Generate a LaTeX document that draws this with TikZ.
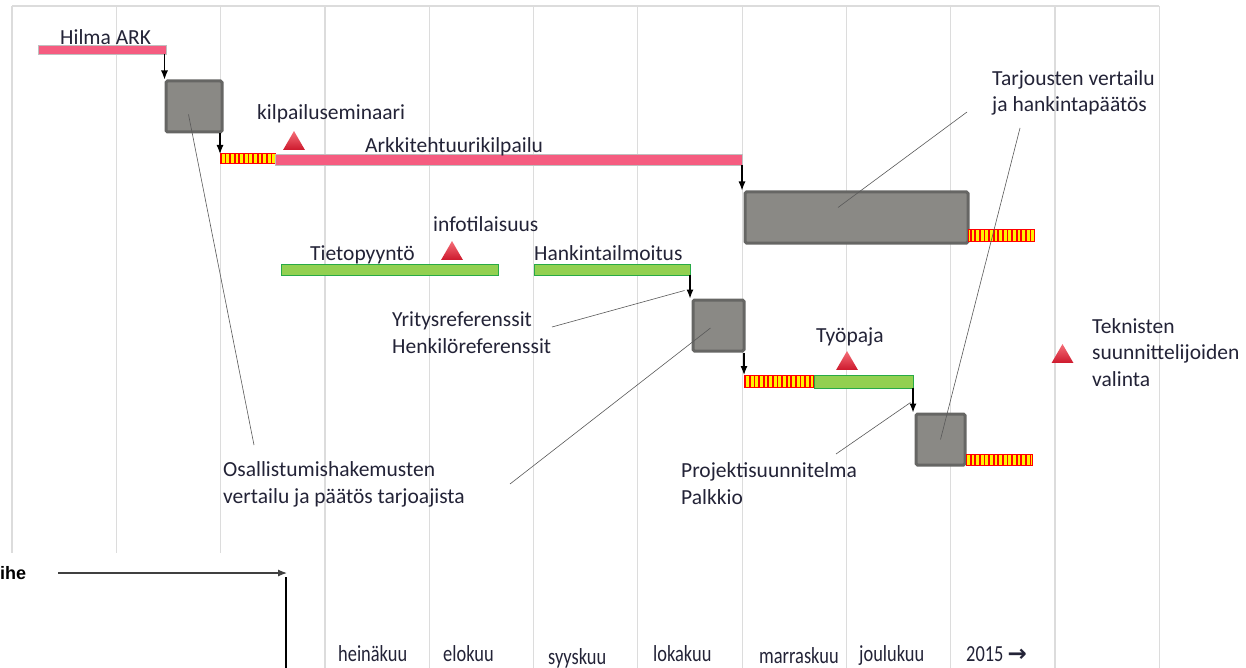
\documentclass[tikz,border=0pt]{standalone}
\usepackage{fontspec}
\setmainfont{Carlito}
\newfontfamily\monthfont[FakeStretch=0.8]{Carlito}
\newfontfamily\phasefont{Liberation Sans}
\newfontfamily\arrowfont{DejaVu Sans}
\usetikzlibrary{shapes.geometric,patterns.meta,arrows.meta}

\definecolor{cGrid}{RGB}{220,220,220}
\definecolor{cBox}{RGB}{138,137,133}
\definecolor{cBoxEdge}{RGB}{102,102,100}
\definecolor{cPink}{RGB}{245,92,128}
\definecolor{cGreen}{RGB}{146,208,80}
\definecolor{cGreenEdge}{RGB}{40,170,70}
\definecolor{cText}{RGB}{35,35,55}
\definecolor{cTriTop}{RGB}{245,110,120}
\definecolor{cTriBot}{RGB}{205,25,45}

\tikzset{
  gridline/.style={cGrid, line width=1.2pt},
  bar/.style={anchor=north west, inner sep=0, outer sep=0, minimum height=10},
  pinkbar/.style={bar, fill=cPink, draw=black!25, line width=0.8pt},
  greenbar/.style={bar, fill=cGreen, draw=cGreenEdge, line width=1pt},
  hatchbar/.style={bar, draw=red, line width=1pt, preaction={fill=yellow},
    pattern={Lines[angle=90,distance=4.6pt,line width=1.8pt]}, pattern color=red},
  phasebox/.style={anchor=north west, inner sep=0, fill=cBox, draw=cBoxEdge,
    line width=3pt, rounded corners=1.5pt},
  milestone/.style={regular polygon, regular polygon sides=3, minimum size=25,
    inner sep=0, anchor=south, top color=cTriTop, bottom color=cTriBot},
  flow/.style={-{Latex[length=9pt,width=7pt]}, line width=1.2pt, black},
  callout/.style={draw=black!65, line width=0.6pt},
  lbl/.style={anchor=base west, inner sep=0, text=cText,
    font=\fontsize{21.5}{26.5}\selectfont},
  multi/.style={lbl, align=left},
  month/.style={anchor=base west, inner sep=0, text=cText,
    font=\monthfont\fontsize{23}{24}\selectfont}
}

\begin{document}
\begin{tikzpicture}[x=1pt,y=-1pt]
\useasboundingbox (0,0) rectangle (1246,668);
\fill[white] (0,0) rectangle (1246,668);

% month grid
\draw[gridline] (12,6) -- (1159.3,6);
\foreach \k in {0,1,2}
  \draw[gridline] ({12+104.3*\k},6) -- ({12+104.3*\k},553);
\foreach \k in {3,...,11}
  \draw[gridline] ({12+104.3*\k},6) -- ({12+104.3*\k},668);

% bars and phases
\node[pinkbar, minimum width=128, minimum height=9] (hilma) at (38,45) {};
\node[phasebox, minimum width=56, minimum height=51] (box1) at (164.5,79.5) {};
\node[hatchbar, minimum width=55] (hatch1) at (220,154) {};
\node[pinkbar, minimum width=467, minimum height=11] (ark) at (275,154) {};
\node[phasebox, minimum width=223, minimum height=51] (box2) at (743.5,190.5) {};
\node[hatchbar, minimum width=66, minimum height=11] (hatch2) at (968,230) {};
\node[greenbar, minimum width=217, minimum height=11] (tieto) at (281,264) {};
\node[greenbar, minimum width=156, minimum height=11] (hank) at (534,264) {};
\node[phasebox, minimum width=51, minimum height=51] (box3) at (691.5,298.5) {};
\node[hatchbar, minimum width=69, minimum height=12] (hatch3) at (744,375) {};
\node[greenbar, minimum width=99, minimum height=13] (tyo) at (814,375) {};
\node[phasebox, minimum width=49, minimum height=51] (box4) at (914.5,412.5) {};
\node[hatchbar, minimum width=66, minimum height=11] (hatch4) at (966,454) {};

% milestones
\node[milestone] (kilp) at (294,150) {};
\node[milestone] (info) at (452,260) {};
\node[milestone] (paja) at (847,370) {};
\node[milestone] (tekn) at (1062.5,363) {};

% labels
\node[lbl] (hilmalbl) at (60,45) {Hilma ARK};
\node[lbl] (kilplbl) at (257,120) {kilpailuseminaari};
\node[lbl] (arklbl) at (365,153) {Arkkitehtuurikilpailu};
\node[lbl] (infolbl) at (433,232) {infotilaisuus};
\node[lbl] (tietolbl) at (310,260) {Tietopyyntö};
\node[lbl] (hanklbl) at (534,260) {Hankintailmoitus};
\node[lbl] (pajalbl) at (816,342) {Työpaja};
\node[multi] (tarj) at (992,112) {Tarjousten vertailu\\ja hankintapäätös};
\node[multi] (refs) at (392,353) {Yritysreferenssit\\Henkilöreferenssit};
\node[multi] (osall) at (223,503) {Osallistumishakemusten\\vertailu ja päätös tarjoajista};
\node[multi] (proj) at (681,504) {Projektisuunnitelma\\Palkkio};
\node[multi] (tekntxt) at (1092,386) {Teknisten\\suunnittelijoiden\\valinta};

% arrows between phases
\draw[flow] (box1.north west |- hilma.south) -- (box1.north west);
\draw[flow] (hatch1.north west |- box1.south) -- (hatch1.north west);
\draw[flow] (ark.south east) -- (ark.south east |- box2.north);
\draw[flow] (hank.south east) -- (hank.south east |- box3.north);
\draw[flow] (hatch3.north west |- box3.south) -- (hatch3.north west);
\draw[flow] (tyo.south east) -- (tyo.south east |- box4.north);

% callout lines
\draw[callout] ([shift={(-5.5,8)}]box1.center) -- ([shift={(31,-58)}]osall.base west);
\draw[callout] ([shift={(-8,2.5)}]box3.center) -- ([shift={(287,-19)}]osall.base west);
\draw[callout] ([shift={(160,-26)}]refs.base west) -- ([shift={(-7,-8)}]box3.north west);
\draw[callout] ([shift={(-25,0)}]tarj.base west) -- ([shift={(-18.5,-10)}]box2.center);
\draw[callout] ([shift={(28,16)}]tarj.base west) -- (box4.center);
\draw[callout] ([shift={(155,-50)}]proj.base west) -- ([shift={(-4,-10)}]box4.north west);

% time axis
\node[anchor=base west, inner sep=0, text=black, font=\phasefont\bfseries\fontsize{18}{19}\selectfont] (vaihe) at (0,579) {ihe};
\coordinate (axisstart) at (58,573);
\coordinate (axiscorner) at (287,573);
\coordinate (axisend) at (286,668);
\draw[flow, black!75] (axisstart) -- (axiscorner);
\draw[line width=1.5pt] ([shift={(-1,4)}]axiscorner) -- (axisend);

\node[month] (m7) at (338,661) {heinäkuu};
\node[month] (m8) at (443,661) {elokuu};
\node[month] (m9) at (548,664) {syyskuu};
\node[month] (m10) at (653,661) {lokakuu};
\node[month] (m11) at (759,663) {marraskuu};
\node[month] (m12) at (859,661) {joulukuu};
\node[month] (y2015) at (966,661) {2015 {\arrowfont\bfseries →}};
\end{tikzpicture}
\end{document}
